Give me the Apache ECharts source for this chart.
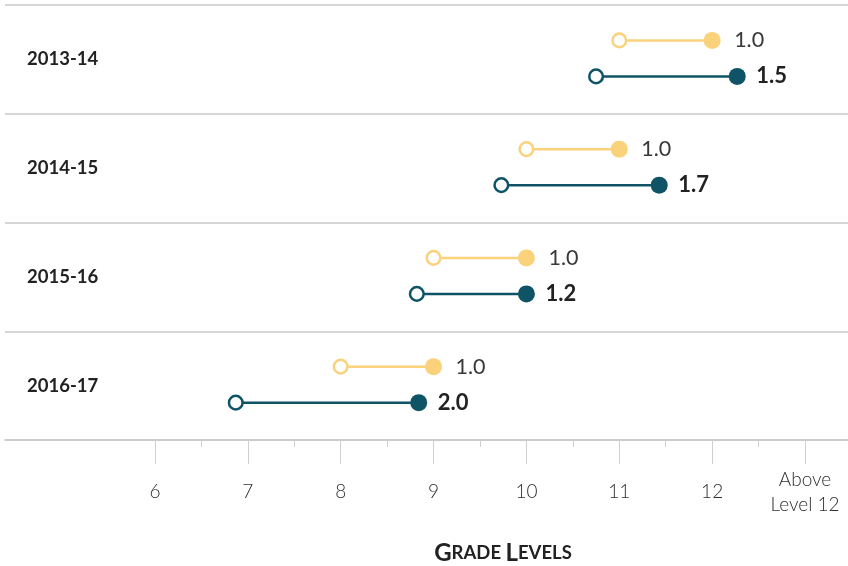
<!DOCTYPE html>
<html><head><meta charset="utf-8">
<script src="https://cdn.jsdelivr.net/npm/echarts@6/dist/echarts.min.js"></script>
<style>html,body{margin:0;padding:0;background:#fff}#c{width:848px;height:566px}</style>
</head><body><div id="c"></div>
<script>
const years = ['2013-14', '2014-15', '2015-16', '2016-17'];
const expectedStart = [11, 10, 9, 8];
const expectedEnd = [12, 11, 10, 9];
const expectedGrowth = ['1.0', '1.0', '1.0', '1.0'];
const actualStart = [10.75, 9.73, 8.82, 6.87];
const actualEnd = [12.27, 11.43, 10.0, 8.84];
const actualGrowth = ['1.5', '1.7', '1.2', '2.0'];
const majorTicks = [6, 7, 8, 9, 10, 11, 12, 13];
const majorTickLabels = ['6', '7', '8', '9', '10', '11', '12', 'Above\nLevel 12'];
const minorTicks = [6.5, 7.5, 8.5, 9.5, 10.5, 11.5, 12.5];

const YELLOW = '#fad27c';
const TEAL = '#0f5466';
const FONT = 'Lato, "Open Sans", sans-serif';

function makeSeries(name, starts, ends, labels, color, dy, bold, labelGap) {
  return {
    name: name,
    type: 'custom',
    xAxisIndex: 0,
    yAxisIndex: 0,
    data: years.map((y, i) => [starts[i], ends[i], i]),
    renderItem: function (params, api) {
      const row = api.value(2);
      const s = api.coord([api.value(0), row]);
      const e = api.coord([api.value(1), row]);
      const yy = s[1] + dy;
      return {
        type: 'group',
        children: [
          { type: 'line', shape: { x1: s[0], y1: yy, x2: e[0], y2: yy }, style: { stroke: color, lineWidth: 2.5 } },
          { type: 'circle', shape: { cx: s[0], cy: yy, r: 6.8 }, style: { fill: '#fff', stroke: color, lineWidth: 2.5 } },
          { type: 'circle', shape: { cx: e[0], cy: yy, r: 8.5 }, style: { fill: color } },
          { type: 'text', x: e[0] + labelGap, y: yy, style: {
              text: labels[params.dataIndex], fill: bold ? '#222' : '#383838',
              font: (bold ? 'bold 22px ' : '21.5px ') + FONT,
              verticalAlign: 'middle', align: 'left' } }
        ]
      };
    }
  };
}

const chart = echarts.init(document.getElementById('c'), null, { renderer: 'canvas' });
chart.setOption({
  animation: false,
  backgroundColor: '#fff',
  title: {
    text: '{b|G}{s|RADE }{b|L}{s|EVELS}',
    left: 498, top: 536, textAlign: 'center',
    textStyle: {
      rich: {
        b: { fontFamily: FONT, fontWeight: 'bold', fontSize: 24, color: '#222' },
        s: { fontFamily: FONT, fontWeight: 'bold', fontSize: 18.5, color: '#222' }
      }
    }
  },
  grid: { left: 5, right: 0, top: 5, bottom: 126, containLabel: false },
  xAxis: [
    {
      type: 'value', min: 4.385, max: 13.463,
      axisLine: { show: true, lineStyle: { color: '#c8c8c8', width: 1.5 } },
      splitLine: { show: false },
      axisTick: { show: true, customValues: majorTicks, length: 24, lineStyle: { color: '#cfcfcf', width: 1 } },
      axisLabel: {
        customValues: majorTicks,
        formatter: v => majorTickLabels[majorTicks.indexOf(v)],
        margin: 52, verticalAlign: 'middle', lineHeight: 25,
        fontFamily: FONT, fontSize: 19, fontWeight: 300, color: '#2e2e2e'
      }
    },
    {
      type: 'value', min: 4.385, max: 13.463, position: 'bottom',
      axisLine: { show: false },
      splitLine: { show: false },
      axisTick: { show: true, customValues: minorTicks, length: 7, lineStyle: { color: '#cfcfcf', width: 1 } },
      axisLabel: { show: false }
    }
  ],
  yAxis: {
    type: 'category', data: years, inverse: true, boundaryGap: true,
    axisLine: { show: false }, axisTick: { show: false },
    splitLine: { show: true, lineStyle: { color: '#c8c8c8', width: 1.5 } },
    axisLabel: {
      inside: true, margin: 22, fontFamily: FONT, fontWeight: 'bold', fontSize: 18.5, color: '#222'
    }
  },
  series: [
    makeSeries('Expected', expectedStart, expectedEnd, expectedGrowth, YELLOW, -19, false, 22),
    makeSeries('Actual', actualStart, actualEnd, actualGrowth, TEAL, 17, true, 19)
  ]
});
</script>
</body></html>
